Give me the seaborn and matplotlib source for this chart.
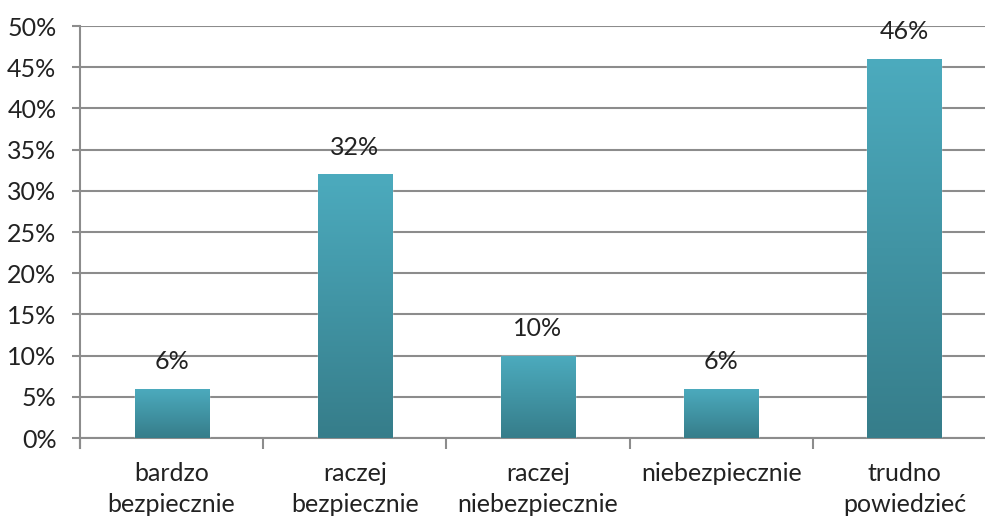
import numpy as np
import pandas as pd
import matplotlib
matplotlib.use("Agg")
import matplotlib.pyplot as plt
import seaborn as sns
from matplotlib.colors import LinearSegmentedColormap
from matplotlib.ticker import FuncFormatter, FixedLocator

categories = ["bardzo\nbezpiecznie", "raczej\nbezpiecznie", "raczej\nniebezpiecznie",
              "niebezpiecznie", "trudno\npowiedzieć"]
values = [6, 32, 10, 6, 46]
yticks = [0, 5, 10, 15, 20, 25, 30, 35, 40, 45, 50]

sns.set_theme(style="white")
plt.rcParams['font.family'] = ['Lato', 'DejaVu Sans']

df = pd.DataFrame({"kategoria": categories, "procent": values})

fig = plt.figure(figsize=(9.85, 5.17), dpi=100)
# axes runs a little past the right edge, like the original
ax = fig.add_axes([80 / 985, 1 - 438 / 517, (996 - 80) / 985, (438 - 26) / 517])

sns.barplot(data=df, x="kategoria", y="procent", color="#4aa8b9", width=0.405, ax=ax, zorder=3)

# vertical gradient on each bar
cmap = LinearSegmentedColormap.from_list("teal", ["#367d8a", "#4cabbe"])
grad = np.linspace(0, 1, 256).reshape(-1, 1)
for p in ax.patches:
    x0, y0 = p.get_x(), p.get_y()
    w, h = p.get_width(), p.get_height()
    im = ax.imshow(grad, cmap=cmap, origin="lower", aspect="auto",
                   extent=[x0, x0 + w, y0, y0 + h], zorder=3)
    im.set_clip_path(p)
    ax.text(x0 + w / 2, h + 1.9, f"{h:.0f}%", ha="center", va="bottom",
            fontsize=18, color="#222222")

ax.set_xlim(-0.5, len(categories) - 0.5)
ax.set_ylim(0, 50)
ax.yaxis.set_major_locator(FixedLocator(yticks))
ax.yaxis.set_major_formatter(FuncFormatter(lambda v, _: f"{v:.0f}%"))
ax.grid(axis="y", color="#8c8c8c", linewidth=1.5, zorder=0)
ax.set_axisbelow(True)

for s in ["top", "right"]:
    ax.spines[s].set_visible(False)
for s in ["left", "bottom"]:
    ax.spines[s].set_color("#8c8c8c")
    ax.spines[s].set_linewidth(1.5)
ax.spines["left"].set_bounds(-1.2, 50)

ax.tick_params(axis="y", length=6, width=1.5, color="#8c8c8c", pad=11,
               labelsize=18, labelcolor="#222222", left=True)
# category separators on x axis
ax.set_xticks(np.arange(-0.5, len(categories), 1), minor=True)
ax.tick_params(axis="x", which="minor", length=8, width=1.5, color="#8c8c8c", bottom=True)
ax.tick_params(axis="x", which="major", length=0, pad=17, labelsize=18, labelcolor="#222222")
ax.set_xticks(range(len(categories)))
ax.set_xticklabels(categories, linespacing=1.45)
ax.set_xlabel("")
ax.set_ylabel("")

fig.savefig("out.png", dpi=100)
